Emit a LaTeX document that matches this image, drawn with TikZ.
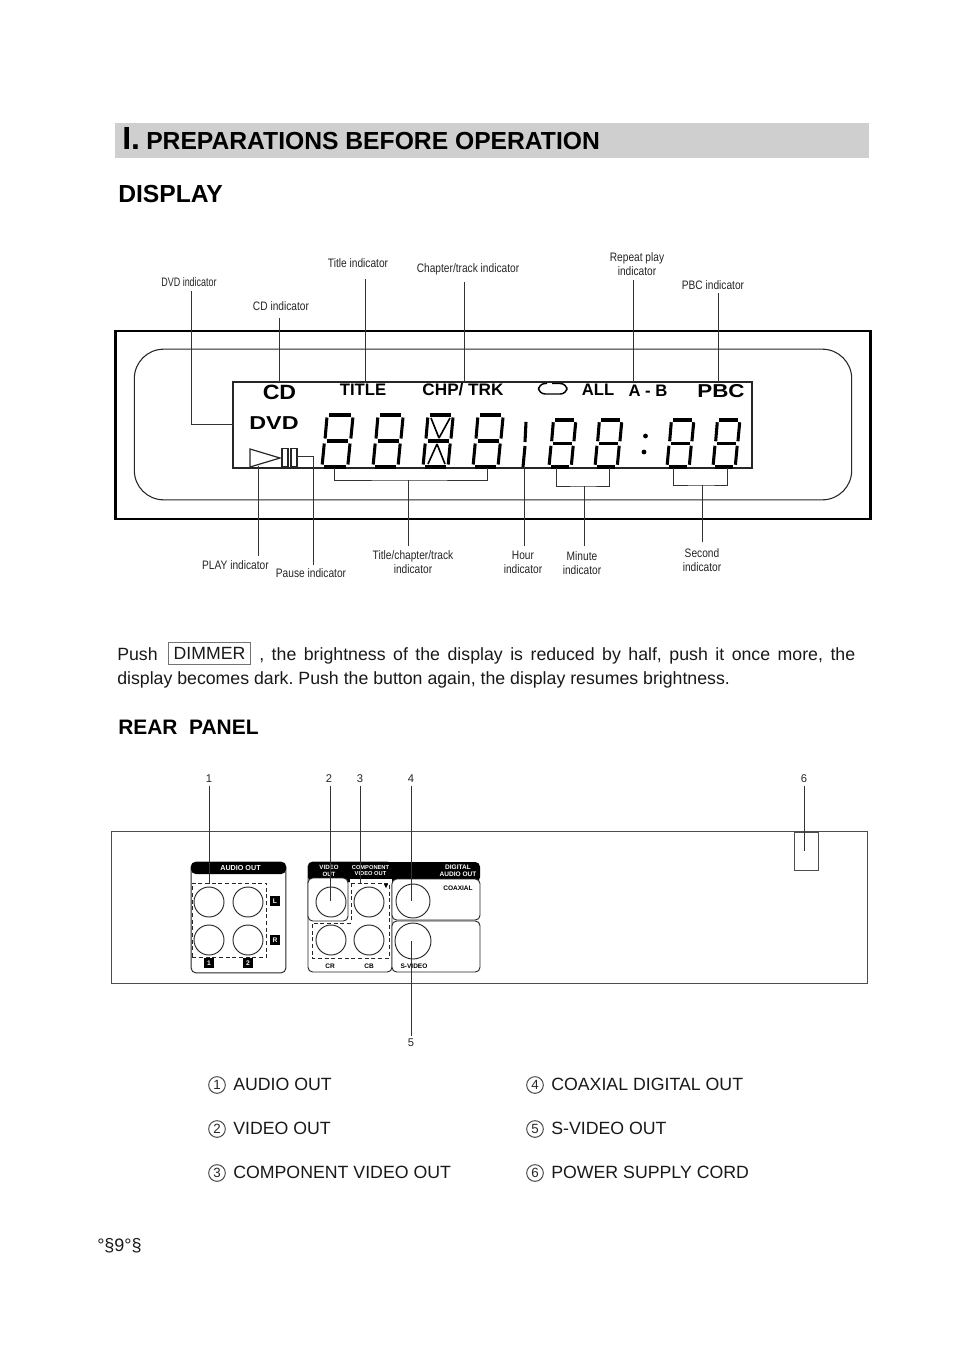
\documentclass[tikz,border=0pt]{standalone}
\usepackage{fontspec}
\usepackage{graphicx}
\setmainfont{Liberation Sans}
\newfontfamily\narrowfont[FakeStretch=0.83]{Liberation Sans}
\usetikzlibrary{calc}
\frenchspacing
\tikzset{
  leader/.style={draw=black!80,line width=0.7pt},
  lbl/.style={inner sep=0pt,align=center,font=\narrowfont\fontsize{9.2pt}{10.6pt}\selectfont,text=black!85},
  num/.style={inner sep=0pt,font=\fontsize{8.4pt}{10pt}\selectfont,text=black!85},
  head/.style={inner sep=0pt,anchor=base west,font=\bfseries\fontsize{18.5pt}{20pt}\selectfont},
  body/.style={inner sep=0pt,anchor=base west,font=\fontsize{13.29pt}{15pt}\selectfont,text=black!90},
  item/.style={inner sep=0pt,anchor=west,font=\fontsize{13.3pt}{15pt}\selectfont,text=black!90},
  circ/.style={draw=black!70,line width=0.75pt,circle,minimum size=12.5pt,inner sep=0pt,font=\fontsize{10pt}{10pt}\selectfont,text=black!85},
  lcdtxt/.style={inner sep=0pt,font=\bfseries},
  seg/.style={line width=2.3pt,black},
  jack/.style={draw=black!85,line width=0.7pt,circle,inner sep=0pt,fill=white},
  panel/.style={draw=black!85,line width=0.7pt,rounded corners=3.5pt},
  dashbox/.style={draw=black!85,line width=0.7pt,dash pattern=on 3pt off 2pt},
  wtxt/.style={inner sep=0pt,align=center,text=white,font=\bfseries\fontsize{5.4pt}{5.6pt}\selectfont},
  btxt/.style={inner sep=0pt,align=center,text=black,font=\bfseries\fontsize{4.9pt}{5.2pt}\selectfont},
  tag/.style={fill=black,text=white,inner sep=0pt,minimum size=7pt,font=\bfseries\fontsize{5pt}{5pt}\selectfont}
}
\newcommand{\lcddigit}[4]{%
  \begin{scope}[shift={(#1,#2)},xscale=#3,yscale=#4]
    \draw[seg] (7,0)--(28,0);
    \draw[seg] (4.8,2.5)--(3,23.5);
    \draw[seg] (30,2.5)--(28,23.5);
    \draw[seg] (4.5,26)--(25.5,26);
    \draw[seg] (2.2,28.5)--(0.2,49.5);
    \draw[seg] (27.2,28.5)--(25.2,49.5);
    \draw[seg] (2,52)--(23,52);
  \end{scope}}
\begin{document}
\begin{tikzpicture}[x=0.75pt,y=-0.75pt]
\useasboundingbox (0,0) rectangle (954,1350);
\fill[white] (0,0) rectangle (954,1350);
% heading
\node[fill=black!19,minimum width=565.5pt,minimum height=26.2pt,inner sep=0pt] (band) at (492,140.5) {};
\node[head,font=\bfseries\fontsize{24pt}{26pt}\selectfont] (hI) at (122,149) {I.};
\node[head] (h1) at (146,149) {PREPARATIONS BEFORE OPERATION};
\node[head] (h2) at (118,202) {DISPLAY};
% display
\node[draw=black,line width=2.2pt,minimum width=566pt,minimum height=141pt,inner sep=0pt] (outer) at (493,425) {};
\node[draw=black!85,line width=0.8pt,rounded corners=22pt,minimum width=538pt,minimum height=113pt,inner sep=0pt] (inner) at (493,424.5) {};
\node[draw=black!85,line width=1.1pt,minimum width=389pt,minimum height=64.5pt,inner sep=0pt] (lcd) at (492.5,425) {};
% LCD texts
\node[lcdtxt] (tCD) at (279.5,392) {\fontsize{15.5pt}{16pt}\selectfont\scalebox{1.12}[1]{CD}};
\node[lcdtxt] (tDVD) at (274,423) {\fontsize{14pt}{16pt}\selectfont\scalebox{1.25}[1]{DVD}};
\node[lcdtxt] (tTITLE) at (363,390) {\fontsize{12.5pt}{14pt}\selectfont TITLE};
\node[lcdtxt] (tCHP) at (463,390) {\fontsize{12.5pt}{14pt}\selectfont\scalebox{1.03}[1]{CHP/ TRK}};
\node[lcdtxt] (tALL) at (598,390) {\fontsize{12.5pt}{14pt}\selectfont ALL};
\node[lcdtxt] (tAB) at (648,391) {\fontsize{12.5pt}{14pt}\selectfont A - B};
\node[lcdtxt] (tPBC) at (721,391) {\fontsize{14pt}{16pt}\selectfont\scalebox{1.2}[1]{PBC}};
% digits
\lcddigit{322}{415}{1.03}{1}
\lcddigit{373}{415}{1.0}{1}
\lcddigit{423}{415}{1.0}{1}
\lcddigit{473}{415}{1.0}{1}
\begin{scope}[shift={(423,415)}]
  \draw[line width=1.2pt] (8,3)--(16,23) (27,3)--(16,23) (14,29)--(5,49) (14,29)--(22,49);
\end{scope}
\lcddigit{549}{420}{0.89}{0.904}
\lcddigit{595}{420}{0.89}{0.904}
\lcddigit{667}{420}{0.89}{0.904}
\lcddigit{713}{420}{0.89}{0.904}
\draw[seg] (526,422)--(525,442) (525,446)--(523,467);
\fill (645.5,436) circle (2.4) (644,452) circle (2.4);
% repeat symbol
\draw[line width=1.1pt,rounded corners=5pt] (547,383.5) -- (538.5,383.5) -- (538.5,394) -- (567,394) -- (567,383.5) -- (552,383.5);
% play, pause
\coordinate (pA) at (250,449);
\coordinate (pB) at (250,467);
\coordinate (pC) at (280,458);
\draw[black!85,line width=0.9pt] (pA)--(pC)--(pB)--cycle;
\node[draw=black!85,line width=0.9pt,minimum width=4.5pt,minimum height=14pt,inner sep=0pt] (pa1) at (285,457.5) {};
\node[draw=black!85,line width=0.9pt,minimum width=4.5pt,minimum height=14pt,inner sep=0pt] (pa2) at (294,457.5) {};
% labels
\node[lbl] (lDVD) at (189,282) {\scalebox{.88}[1]{DVD indicator}};
\node[lbl] (lCD) at (281,306) {CD indicator};
\node[lbl] (lTITLE) at (358,263) {Title indicator};
\node[lbl] (lCHP) at (468,269) {Chapter/track indicator};
\node[lbl] (lREP) at (637,264) {Repeat play\\indicator};
\node[lbl] (lPBC) at (713,285) {PBC indicator};
\node[lbl] (lPLAY) at (235.5,565) {PLAY indicator};
\node[lbl] (lPAUSE) at (311,573) {Pause indicator};
\node[lbl] (lTCT) at (413,562) {Title/chapter/track\\indicator};
\node[lbl] (lHOUR) at (523,562) {Hour\\indicator};
\node[lbl] (lMIN) at (582,563) {Minute\\indicator};
\node[lbl] (lSEC) at (702,560) {Second\\indicator};
% connector anchors
\coordinate (c1) at (191,291); \coordinate (c1e) at (233,424);
\coordinate (c2) at (279,318); \coordinate (c2e) at (279,382);
\coordinate (c3) at (365,279); \coordinate (c3e) at (365,382);
\coordinate (c4) at (464,282); \coordinate (c4e) at (464,382);
\coordinate (c5) at (633,280); \coordinate (c5e) at (633,382);
\coordinate (c6) at (718,293); \coordinate (c6e) at (718,382);
\coordinate (c7) at (258,556); \coordinate (c7e) at (258,466);
\coordinate (c8) at (313,565); \coordinate (c8e) at (297,456.5);
\coordinate (b1a) at (334,468); \coordinate (b1b) at (487,468); \coordinate (b1m) at (408,480); \coordinate (c9) at (408,546);
\coordinate (c10) at (524,546); \coordinate (c10e) at (524,467);
\coordinate (b2a) at (556,468); \coordinate (b2b) at (609,468); \coordinate (b2m) at (584,486); \coordinate (c11) at (584,546);
\coordinate (b3a) at (673,468); \coordinate (b3b) at (727,468); \coordinate (b3m) at (702,485); \coordinate (c12) at (702,542);
\draw[leader] (c1) |- (c1e);
\draw[leader] (c2) -- (c2e);
\draw[leader] (c3) -- (c3e);
\draw[leader] (c4) -- (c4e);
\draw[leader] (c5) -- (c5e);
\draw[leader] (c6) -- (c6e);
\draw[leader] (c7) -- (c7e);
\draw[leader] (c8) |- (c8e);
\draw[leader] (b1a) |- (b1m) -| (b1b);
\draw[leader] (b1m) -- (c9);
\draw[leader] (c10) -- (c10e);
\draw[leader] (b2a) |- (b2m) -| (b2b);
\draw[leader] (b2m) -- (c11);
\draw[leader] (b3a) |- (b3m) -| (b3b);
\draw[leader] (b3m) -- (c12);
% paragraph
\node[body] (pPush) at (117,660) {Push};
\node[draw=black!55,line width=0.8pt,minimum width=62pt,minimum height=16.5pt,inner sep=0pt,font=\fontsize{13.24pt}{15pt}\selectfont,text=black!90] (dim) at (209.5,653.5) {DIMMER};
\node[body] (pRest) at (259,660) {\makebox[447pt][s]{, the brightness of the display is reduced by half, push it once more, the}};
\node[body] (pLine2) at (117,684) {display becomes dark. Push the button again, the display resumes brightness.};
\node[head,font=\bfseries\fontsize{15.7pt}{18pt}\selectfont] (h3) at (118,734) {REAR\ \ PANEL};
% rear panel
\node[draw=black!70,line width=0.6pt,minimum width=567pt,minimum height=114pt,inner sep=0pt] (rear) at (489,907) {};
\node[draw=black!70,line width=0.6pt,minimum width=18pt,minimum height=29pt,inner sep=0pt] (cord) at (806,851.5) {};
% audio panel
\node[panel,minimum width=71pt,minimum height=83pt,inner sep=0pt] (pAudio) at (238.5,917.5) {};
\fill[black,rounded corners=3.5pt] (191,874) -- (191,862) -- (286,862) -- (286,874) -- cycle;
\node[wtxt] (tAudio) at (240.5,868) {AUDIO OUT};
\node[dashbox,minimum width=56pt,minimum height=55.5pt,inner sep=0pt] (dAudio) at (229.5,920) {};
\node[jack,minimum size=22.5pt] (j1) at (209,902) {};
\node[jack,minimum size=22.5pt] (j2) at (248,902) {};
\node[jack,minimum size=22.5pt] (j3) at (209,940) {};
\node[jack,minimum size=22.5pt] (j4) at (248,940) {};
\node[tag] (tL) at (275,901) {L};
\node[tag] (tR) at (275,940) {R};
\node[tag] (t1) at (209,963) {1};
\node[tag] (t2) at (248,963) {2};
% middle panels
\draw[panel,fill=white] (308,862) -- (392,862) -- (392,972) -- (308,972) -- cycle;
\fill[black,rounded corners=3.5pt] (308,882) -- (308,862) -- (480,862) -- (480,882) -- cycle;
\fill[white] (349.5,879) rectangle (391.5,884);
\draw[panel,fill=white] (308,921) -- (308,878) -- (348,878) -- (348,921) -- cycle;
\draw[panel,fill=white] (392,879) -- (480,879) -- (480,920) -- (392,920) -- cycle;
\draw[panel,fill=white] (392,921) -- (480,921) -- (480,972) -- (392,972) -- cycle;
\node[wtxt,font=\bfseries\fontsize{4.6pt}{5.2pt}\selectfont] (tVid) at (329,870.5) {VIDEO\\OUT};
\node[wtxt,font=\bfseries\fontsize{4.3pt}{5.2pt}\selectfont] (tComp) at (370.5,870.5) {COMPONENT\\VIDEO OUT};
\node[wtxt,font=\bfseries\fontsize{4.9pt}{5.2pt}\selectfont,align=center] (tDig) at (458,870.5) {DIGITAL\\AUDIO OUT};
\node[btxt] (tCoax) at (458,888) {COAXIAL};
\node[btxt] (tSv) at (414,966) {S-VIDEO};
\node[btxt] (tCr) at (330,966) {CR};
\node[btxt] (tCb) at (369,966) {CB};
\coordinate (d1) at (351,883); \coordinate (d2) at (389,883); \coordinate (d3) at (389,958);
\coordinate (d4) at (312,958); \coordinate (d5) at (312,923); \coordinate (d6) at (351,923);
\draw[dashbox] (d1)--(d2)--(d3)--(d4)--(d5)--(d6)--cycle;
\node[jack,minimum size=22.5pt] (j5) at (331,902) {};
\node[jack,minimum size=22.5pt] (j6) at (369,902) {};
\node[jack,minimum size=22.5pt] (j7) at (331,940) {};
\node[jack,minimum size=22.5pt] (j8) at (369,940) {};
\node[jack,minimum size=25.5pt] (j9) at (413,901) {};
\node[jack,minimum size=27pt] (j10) at (413,941) {};
\coordinate (tr1) at (384,884); \coordinate (tr2) at (388,884); \coordinate (tr3) at (386,888);
\fill (tr1)--(tr2)--(tr3)--cycle;
% rear numbers
\node[num] (n1) at (209,779) {1};
\node[num] (n2) at (329,779) {2};
\node[num] (n3) at (360,779) {3};
\node[num] (n4) at (411,779) {4};
\node[num] (n5) at (411,1043) {5};
\node[num] (n6) at (804,779) {6};
\coordinate (e1) at (209,884); \coordinate (e2) at (330,901); \coordinate (e3) at (360,883);
\coordinate (e4) at (411,901); \coordinate (e5) at (411,941); \coordinate (e6) at (804,851);
\draw[leader,shorten <=2pt] (n1.south) -- (e1);
\draw[leader,shorten <=2pt] (n2.south -| e2) -- (e2);
\draw[leader,shorten <=2pt] (n3.south) -- (e3);
\draw[leader,shorten <=2pt] (n4.south) -- (e4);
\draw[leader,shorten <=2pt] (n5.north) -- (e5);
\draw[leader,shorten <=2pt] (n6.south) -- (e6);
% legend
\node[circ] (k1) at (217,1085) {1};
\node[item] (i1) at (233,1084.5) {AUDIO OUT};
\node[circ] (k2) at (217,1129) {2};
\node[item] (i2) at (233,1128.5) {VIDEO OUT};
\node[circ] (k3) at (217,1173) {3};
\node[item] (i3) at (233,1172.5) {COMPONENT VIDEO OUT};
\node[circ] (k4) at (535,1085) {4};
\node[item] (i4) at (551,1084.5) {COAXIAL DIGITAL OUT};
\node[circ] (k5) at (535,1129) {5};
\node[item] (i5) at (551,1128.5) {S-VIDEO OUT};
\node[circ] (k6) at (535,1173) {6};
\node[item] (i6) at (551,1172.5) {POWER SUPPLY CORD};
% page mark
\node[inner sep=0pt,anchor=west,font=\fontsize{13.5pt}{15pt}\selectfont,text=black!90] (pm) at (97,1246) {°§9°§};
\end{tikzpicture}
\end{document}
